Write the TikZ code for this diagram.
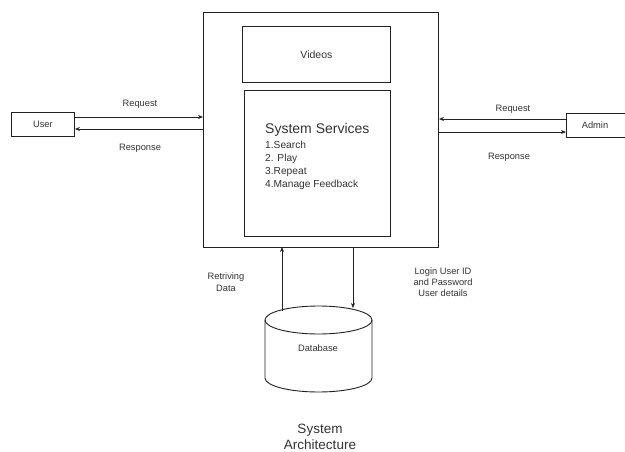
\documentclass[tikz,border=0pt]{standalone}
\usepackage{fontspec}
\setmainfont{Liberation Sans}
\usetikzlibrary{arrows.meta}
\definecolor{ln}{HTML}{222222}
\definecolor{tx}{HTML}{333333}
\tikzset{
  box/.style={draw=ln, line width=0.9pt, inner sep=0pt, anchor=north west},
  lbl/.style={text=tx, font=\fontsize{9.3}{11}\selectfont, inner sep=0pt, align=center},
  arr/.style={draw=ln, line width=0.8pt, -{Stealth[length=5pt,width=4pt]}}
}
\begin{document}
\begin{tikzpicture}[x=1pt,y=-1pt]
\useasboundingbox (0,0) rectangle (625,452);
\fill[white] (0,0) rectangle (625,452);
% main box
\node[box, minimum width=235pt, minimum height=235pt] (main) at (203,12) {};
\node[box, minimum width=148pt, minimum height=56pt] (videos) at (242,26) {};
\node[lbl, font=\fontsize{10.5}{12}\selectfont] at (videos.center) {Videos};
\node[box, minimum width=146pt, minimum height=146pt] (svc) at (244,90) {};
\node[text=tx, anchor=north west, inner sep=0pt, align=left, font=\fontsize{14}{16}\selectfont] (svct) at (265,123) {System Services};
\node[text=tx, anchor=north west, inner sep=0pt, align=left, font=\fontsize{10.2}{13}\selectfont] (svcl) at (265,141) {1.Search\\2. Play\\3.Repeat\\4.Manage Feedback};
% user
\node[box, minimum width=63pt, minimum height=24pt] (user) at (11,112) {};
\node[lbl] at (user.center) {User};
\coordinate (uA) at (user.east |- 0,117);
\coordinate (uB) at (main.west |- 0,117);
\coordinate (uC) at (main.west |- 0,129);
\coordinate (uD) at (user.east |- 0,129);
\draw[arr] (uA) -- (uB);
\draw[arr] (uC) -- (uD);
\node[lbl] (ureq) at (140,104) {Request};
\node[lbl] (uresp) at (140,148) {Response};
% admin
\node[box, minimum width=70pt, minimum height=24pt] (admin) at (566,113) {};
\node[lbl] at (595,125) {Admin};
\coordinate (aA) at (admin.west |- 0,119);
\coordinate (aB) at (main.east |- 0,119);
\coordinate (aC) at (main.east |- 0,132);
\coordinate (aD) at (admin.west |- 0,132);
\draw[arr] (aA) -- (aB);
\draw[arr] (aC) -- (aD);
\node[lbl] (areq) at (513,109) {Request};
\node[lbl] (aresp) at (509,157) {Response};
% database cylinder
\draw[draw=ln, line width=0.9pt, fill=white] (265,320) -- (265,378) arc (180:0:53.5 and 14) -- (372,320);
\draw[draw=ln, line width=0.9pt] (318.5,320) ellipse (53.5 and 14);
\node[lbl] (db) at (318,348) {Database};
\coordinate (d1) at (282,311);
\coordinate (d1t) at (282,247);
\coordinate (d2) at (353,247);
\coordinate (d2t) at (353,308);
\draw[arr] (d1) -- (d1t);
\draw[arr] (d2) -- (d2t);
\node[lbl, font=\fontsize{9.3}{12}\selectfont] (ret) at (226,282) {Retriving\\Data};
\node[lbl, font=\fontsize{9.3}{11}\selectfont] (login) at (443,282) {Login User ID\\and Password\\User details};
% title
\node[lbl, font=\fontsize{13.5}{15.5}\selectfont] (title) at (320,437) {System\\Architecture};
\end{tikzpicture}
\end{document}
